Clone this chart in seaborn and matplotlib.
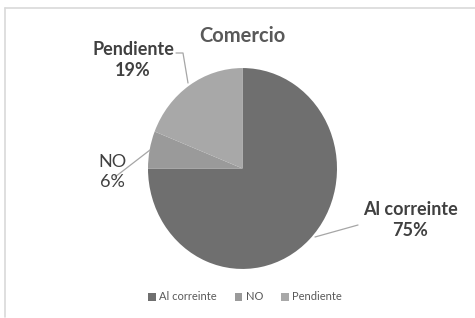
import matplotlib
matplotlib.use("Agg")
import matplotlib.pyplot as plt
import seaborn as sns
from matplotlib.patches import Patch
from matplotlib.lines import Line2D

sns.set_theme(style="white")
plt.rcParams['font.family'] = ['Lato', 'DejaVu Sans']

categories = ["Al correinte", "NO", "Pendiente"]
values = [75, 6, 19]
colors = ["#6f6f6f", "#9a9a9a", "#a8a8a8"]
title = "Comercio"

W, H = 475, 318
YS = 1.063  # vertical stretch of pie

fig = plt.figure(figsize=(W / 100, H / 100), dpi=100)
ax = fig.add_axes([0, 0, 1, 1])
ax.axis('off')

def py(y):
    return (H - y) / YS

ax.pie(values, colors=colors, startangle=90, counterclock=False,
       center=(242.5, py(168.5)), radius=94.5, frame=False,
       wedgeprops=dict(linewidth=0))
ax.set_xlim(0, W)
ax.set_ylim(0, H / YS)
ax.set_aspect('auto')

# border
ax.add_line(Line2D([5, W], [py(8), py(8)], color="#d9d9d9", lw=1.2))
ax.add_line(Line2D([5, 5], [py(8), py(317)], color="#d9d9d9", lw=1.2))

ttl = "#595959"
txt = "#404040"
ax.text(242, py(36), title, ha='center', va='center', fontsize=14.5,
        fontweight='bold', color=ttl)

lab_pct = [f"{c}\n{v}%" for c, v in zip(categories, values)]
ax.text(410, py(220), lab_pct[0], ha='center', va='center', fontsize=13,
        fontweight='bold', color=txt, linespacing=1.25)
ax.text(112, py(172), lab_pct[1], ha='center', va='center', fontsize=13,
        color=txt, linespacing=1.25)
ax.text(133, py(60), lab_pct[2], ha='center', va='center', fontsize=13,
        fontweight='bold', color=txt, linespacing=1.25)

lc = "#a6a6a6"
ax.add_line(Line2D([176, 183, 188], [py(53), py(53), py(83)], color=lc, lw=0.9))
ax.add_line(Line2D([150, 115], [py(150), py(177)], color=lc, lw=0.9))
ax.add_line(Line2D([315, 358], [py(237), py(225)], color=lc, lw=0.9))

handles = [Patch(facecolor=c, edgecolor='none') for c in colors]
leg = fig.legend(handles, categories, loc='center', ncol=3,
                 bbox_to_anchor=(245 / W, 1 - 297 / H), frameon=False,
                 fontsize=8, handlelength=0.7, handleheight=0.7,
                 handletextpad=0.3, columnspacing=1.6)
for t in leg.get_texts():
    t.set_color(ttl)

fig.savefig("out.png", dpi=100, facecolor="white")
